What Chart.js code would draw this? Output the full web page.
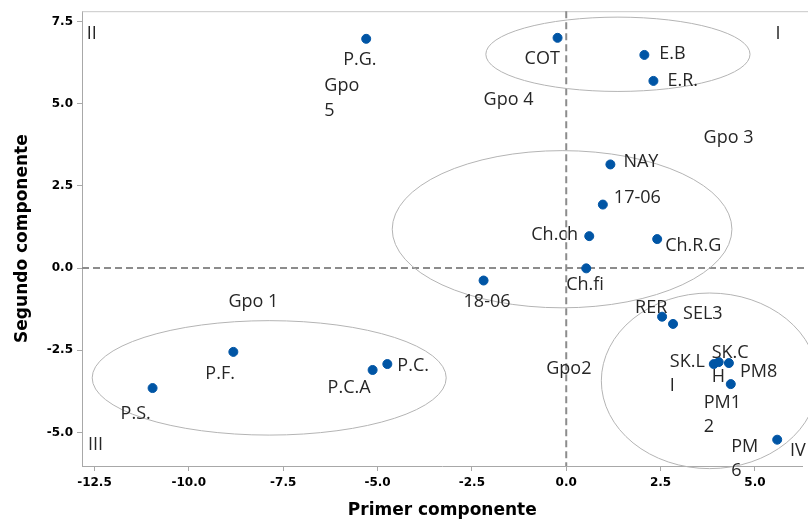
<!DOCTYPE html>
<html>
<head>
<meta charset="utf-8">
<script src="https://cdn.jsdelivr.net/npm/chart.js@4/dist/chart.umd.min.js"></script>
<style>
  html, body { margin: 0; padding: 0; background: #fff; }
  #wrap { width: 808px; height: 523px; }
</style>
</head>
<body>
<div id="wrap"><canvas id="pca" width="808" height="523"></canvas></div>
<script>
// --- Data: cultivar scores on the first two components ---
const pointNames = ['P.G.', 'COT', 'E.B', 'E.R.', 'NAY', '17-06', 'Ch.ch', 'Ch.R.G', '18-06', 'Ch.fi',
  'RER', 'SEL3', 'SK.L\nI', 'SK.C\nH', 'PM8', 'PM1\n2', 'PM\n6', 'P.F.', 'P.S.', 'P.C.A', 'P.C.'];
const pc1 = [-5.30, -0.23, 2.07, 2.31, 1.17, 0.97, 0.61, 2.41, -2.19, 0.53,
  2.54, 2.83, 3.91, 4.04, 4.31, 4.36, 5.59, -8.82, -10.96, -5.13, -4.74];
const pc2 = [6.97, 7.00, 6.48, 5.69, 3.15, 1.93, 0.97, 0.88, -0.38, -0.01,
  -1.48, -1.70, -2.92, -2.86, -2.89, -3.53, -5.22, -2.55, -3.65, -3.10, -2.92];

// group ellipses (centre and half axes, in data units)
const groupCx = [1.37, -0.11, 3.80, -7.87];
const groupCy = [6.50, 1.18, -3.43, -3.34];
const groupRx = [3.50, 4.50, 2.87, 4.69];
const groupRy = [1.13, 2.39, 2.67, 1.74];

// free text: group names and quadrant numbers
const noteText = ['Gpo\n5', 'Gpo 4', 'Gpo 3', 'Gpo 1', 'Gpo2', 'II', 'I', 'III', 'IV'];
const noteX = [-6.41, -1.53, 4.30, -8.29, 0.07, -12.57, 5.61, -12.47, 6.14];
const noteY = [5.55, 5.12, 3.95, -1.02, -3.07, 7.11, 7.11, -5.38, -5.56];
const noteAlign = ['left', 'center', 'center', 'center', 'center', 'center', 'center', 'center', 'center'];

const xTicks = [-12.5, -10.0, -7.5, -5.0, -2.5, 0.0, 2.5, 5.0];
const yTicks = [-5.0, -2.5, 0.0, 2.5, 5.0, 7.5];

// label placement next to each point, pixels (dx to text left, dy to first line middle)
const labelOffsets = [[-23, 21], [-33, 21], [15, -1], [14, 0], [13, -3], [11, -7], [-58, -1], [8, 7],
  [-20, 21], [-20, 17], [-27, -9], [10, -10], [-44, -2], [-7, -9], [11, 9], [-27, 19], [-46, 7],
  [-28, 22], [-32, 26], [-45, 18], [10, 2]];

const TEXT_FONT = '18px "Open Sans", sans-serif';
const TEXT_COLOR = '#262626';

const decorPlugin = {
  id: 'decor',
  beforeDatasetsDraw(chart) {
    const { ctx, chartArea: a, scales: { x, y } } = chart;
    ctx.save();
    // top frame line
    ctx.strokeStyle = '#c8c8c8';
    ctx.lineWidth = 1;
    ctx.beginPath();
    ctx.moveTo(a.left, a.top + 0.5);
    ctx.lineTo(chart.width, a.top + 0.5);
    ctx.stroke();
    // reference lines through the origin
    ctx.strokeStyle = '#8c8c8c';
    ctx.lineWidth = 2;
    ctx.setLineDash([7, 4]);
    const x0 = x.getPixelForValue(0), y0 = y.getPixelForValue(0);
    ctx.beginPath();
    ctx.moveTo(x0, a.top); ctx.lineTo(x0, a.bottom);
    ctx.moveTo(a.left, y0); ctx.lineTo(chart.width, y0);
    ctx.stroke();
    ctx.setLineDash([]);
    // group ellipses
    ctx.strokeStyle = '#b4b4b4';
    ctx.lineWidth = 1;
    groupCx.forEach((cx, i) => {
      const px = x.getPixelForValue(cx), py = y.getPixelForValue(groupCy[i]);
      const rx = Math.abs(x.getPixelForValue(cx + groupRx[i]) - px);
      const ry = Math.abs(y.getPixelForValue(groupCy[i] + groupRy[i]) - py);
      ctx.beginPath();
      ctx.ellipse(px, py, rx, ry, 0, 0, Math.PI * 2);
      ctx.stroke();
    });
    ctx.restore();
  },
  afterDatasetsDraw(chart) {
    const { ctx, scales: { x, y } } = chart;
    ctx.save();
    ctx.font = TEXT_FONT;
    ctx.fillStyle = TEXT_COLOR;
    ctx.textBaseline = 'middle';
    // point labels
    ctx.textAlign = 'left';
    pointNames.forEach((name, i) => {
      const px = x.getPixelForValue(pc1[i]) + labelOffsets[i][0];
      const py = y.getPixelForValue(pc2[i]) + labelOffsets[i][1];
      name.split('\n').forEach((line, k) => ctx.fillText(line, px, py + k * 24));
    });
    // group names and quadrants
    noteText.forEach((t, i) => {
      ctx.textAlign = noteAlign[i];
      const px = x.getPixelForValue(noteX[i]), py = y.getPixelForValue(noteY[i]);
      t.split('\n').forEach((line, k) => ctx.fillText(line, px, py + k * 25));
    });
    ctx.restore();
  }
};

const tickFont = { family: '"DejaVu Sans", sans-serif', size: 12, weight: 'bold' };
const titleFont = { family: '"DejaVu Sans", sans-serif', size: 17, weight: 'bold' };

new Chart(document.getElementById('pca'), {
  type: 'scatter',
  data: {
    datasets: [{
      data: pc1.map((v, i) => ({ x: v, y: pc2[i] })),
      backgroundColor: '#0055a5',
      borderColor: '#0055a5',
      pointRadius: 4.5,
      pointHoverRadius: 4.5
    }]
  },
  options: {
    responsive: false,
    animation: false,
    layout: { padding: { top: 9, right: 0, left: 0, bottom: 0 } },
    plugins: { legend: { display: false }, tooltip: { enabled: false } },
    scales: {
      x: {
        min: -12.83, max: 6.26,
        afterFit: s => { s.height = 57; },
        afterBuildTicks: s => { s.ticks = xTicks.map(v => ({ value: v })); },
        border: { color: '#a8a8a8', width: 1 },
        grid: { drawOnChartArea: false, tickLength: 5, tickColor: '#a8a8a8' },
        ticks: { font: tickFont, color: '#000', padding: 5, maxRotation: 0,
          callback: v => v.toFixed(1) },
        title: { display: true, text: 'Primer componente', font: titleFont, color: '#000',
          padding: { top: 0, bottom: 2 } }
      },
      y: {
        min: -6.02, max: 7.81,
        afterFit: s => { s.width = 82; },
        afterBuildTicks: s => { s.ticks = yTicks.map(v => ({ value: v })); },
        border: { color: '#a8a8a8', width: 1 },
        grid: { drawOnChartArea: false, tickLength: 5, tickColor: '#a8a8a8' },
        ticks: { font: tickFont, color: '#000', padding: 4,
          callback: v => v.toFixed(1) },
        title: { display: true, text: 'Segundo componente', font: titleFont, color: '#000',
          padding: { top: 12, bottom: 0 } }
      }
    }
  },
  plugins: [decorPlugin]
});
</script>
</body>
</html>
